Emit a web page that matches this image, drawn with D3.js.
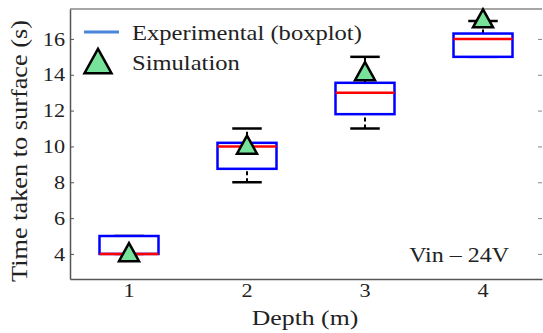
<!DOCTYPE html>
<html>
<head>
<meta charset="utf-8">
<script src="https://cdn.jsdelivr.net/npm/d3@7"></script>
<style>
  body { margin: 0; background: #fff; }
  svg { display: block; font-family: "Liberation Serif", "Times New Roman", serif; }
</style>
</head>
<body>
<div class="canvas"></div>
<script>
// box stats per depth
var depths = [1, 2, 3, 4];
var whiskerLow = [4, 8, 11, 15];
var q1 = [4, 8.75, 11.8, 15];
var median = [4, 10, 13, 16];
var q3 = [5, 10.2, 13.55, 16.3];
var whiskerHigh = [5, 11, 15, 17];
var simulation = [4.1, 10.1, 14.2, 17.15];
var yTicks = [4, 6, 8, 10, 12, 14, 16];

var W = 543, H = 333;
var mLeft = 70, mRight = 542, mTop = 9, mBottom = 279;
var sx = 1.17; // the reference text is a bit wide

var svg = d3.select(".canvas").append("svg").attr("width", W).attr("height", H);

var scaleX = d3.scaleLinear().domain([0.5, 4.5]).range([mLeft, mRight]);
var scaleY = d3.scaleLinear().domain([2.6, 17.67]).range([mBottom, mTop]);

var boxes = depths.map(function(d, i) {
  return {x: d, lo: whiskerLow[i], q1: q1[i], med: median[i], q3: q3[i], hi: whiskerHigh[i], sim: simulation[i]};
});

// wide text at (x, y)
function label(parent, x, y, str, size, anchor, rot) {
  return parent.append("text")
    .attr("transform", "translate(" + x + "," + y + ")" + (rot ? " rotate(" + rot + ")" : "") + " scale(" + sx + ",1)")
    .attr("text-anchor", anchor || "start")
    .attr("font-size", size).attr("fill", "#222").text(str);
}

// frame
svg.append("line").attr("x1", mLeft).attr("x2", mRight).attr("y1", mTop).attr("y2", mTop)
  .attr("stroke", "#888").attr("stroke-width", 1.5);

var yAxis = d3.axisLeft(scaleY).tickValues(yTicks).tickSizeInner(-4).tickSizeOuter(0).tickFormat("");
var gy = svg.append("g").attr("transform", "translate(" + mLeft + ",0)").call(yAxis);
gy.select(".domain").attr("stroke", "#555").attr("stroke-width", 1.5);
gy.selectAll(".tick line").attr("stroke", "#555");
yTicks.forEach(function(t) {
  label(svg, 65, scaleY(t), t, 19, "end").attr("dy", "0.35em");
});

var yRight = d3.axisRight(scaleY).tickValues(yTicks).tickSizeInner(-4).tickSizeOuter(0).tickFormat("");
var gr = svg.append("g").attr("transform", "translate(" + mRight + ",0)").call(yRight);
gr.select(".domain").remove();
gr.selectAll(".tick line").attr("stroke", "#888");

var xAxis = d3.axisBottom(scaleX).tickValues(depths).tickSize(0).tickFormat("");
var gx = svg.append("g").attr("transform", "translate(0," + mBottom + ")").call(xAxis);
gx.select(".domain").attr("stroke", "#555").attr("stroke-width", 1.5);
depths.forEach(function(d) {
  label(svg, scaleX(d), 297, d, 19, "middle");
});

// whiskers
var bw = 0.25, cw = 0.125;
var g = svg.append("g");
g.selectAll(".wlo").data(boxes).enter().append("line")
  .attr("x1", function(d) { return scaleX(d.x); }).attr("x2", function(d) { return scaleX(d.x); })
  .attr("y1", function(d) { return scaleY(d.lo); }).attr("y2", function(d) { return scaleY(d.q1); })
  .attr("stroke", "#000").attr("stroke-width", 2).attr("stroke-dasharray", "4,3");
g.selectAll(".whi").data(boxes).enter().append("line")
  .attr("x1", function(d) { return scaleX(d.x); }).attr("x2", function(d) { return scaleX(d.x); })
  .attr("y1", function(d) { return scaleY(d.q3); }).attr("y2", function(d) { return scaleY(d.hi); })
  .attr("stroke", "#000").attr("stroke-width", 2).attr("stroke-dasharray", "4,3");
g.selectAll(".caplo").data(boxes).enter().append("line")
  .attr("x1", function(d) { return scaleX(d.x - cw); }).attr("x2", function(d) { return scaleX(d.x + cw); })
  .attr("y1", function(d) { return scaleY(d.lo); }).attr("y2", function(d) { return scaleY(d.lo); })
  .attr("stroke", "#000").attr("stroke-width", 2.5);
g.selectAll(".caphi").data(boxes).enter().append("line")
  .attr("x1", function(d) { return scaleX(d.x - cw); }).attr("x2", function(d) { return scaleX(d.x + cw); })
  .attr("y1", function(d) { return scaleY(d.hi); }).attr("y2", function(d) { return scaleY(d.hi); })
  .attr("stroke", "#000").attr("stroke-width", 2.5);

// boxes
g.selectAll("rect").data(boxes).enter().append("rect")
  .attr("x", function(d) { return scaleX(d.x - bw); })
  .attr("width", function(d) { return scaleX(d.x + bw) - scaleX(d.x - bw); })
  .attr("y", function(d) { return scaleY(d.q3); })
  .attr("height", function(d) { return scaleY(d.q1) - scaleY(d.q3); })
  .attr("fill", "#fff").attr("stroke", "#0000ff").attr("stroke-width", 2.5);
g.selectAll(".med").data(boxes).enter().append("line")
  .attr("x1", function(d) { return scaleX(d.x - bw); }).attr("x2", function(d) { return scaleX(d.x + bw); })
  .attr("y1", function(d) { return scaleY(d.med); }).attr("y2", function(d) { return scaleY(d.med); })
  .attr("stroke", "#ff0000").attr("stroke-width", 2.5);

// simulation triangles
function tri(s) {
  var h = s * 0.9;
  return "M0," + (-h / 2) + "L" + (s / 2) + "," + (h / 2) + "L" + (-s / 2) + "," + (h / 2) + "Z";
}
g.selectAll(".sim").data(boxes).enter().append("path")
  .attr("d", tri(20))
  .attr("transform", function(d) { return "translate(" + scaleX(d.x) + "," + scaleY(d.sim) + ")"; })
  .attr("fill", "#77e39a").attr("stroke", "#000").attr("stroke-width", 2.5);

// legend
var lg = svg.append("g");
lg.append("line").attr("x1", 84).attr("x2", 119).attr("y1", 32).attr("y2", 32)
  .attr("stroke", "#4a86d8").attr("stroke-width", 3);
label(lg, 132, 33, "Experimental (boxplot)", 21).attr("dy", "0.35em");
lg.append("path").attr("d", tri(27)).attr("transform", "translate(98,61)")
  .attr("fill", "#77e39a").attr("stroke", "#000").attr("stroke-width", 2.5);
label(lg, 132, 63, "Simulation", 21).attr("dy", "0.35em");

// annotation
label(svg, 509, 262, "Vin \u2013 24V", 20.5, "end");

// axis labels
label(svg, 305, 325, "Depth (m)", 22, "middle");
label(svg, 27, 151, "Time taken to surface (s)", 22.5, "middle", -90);
</script>
</body>
</html>
